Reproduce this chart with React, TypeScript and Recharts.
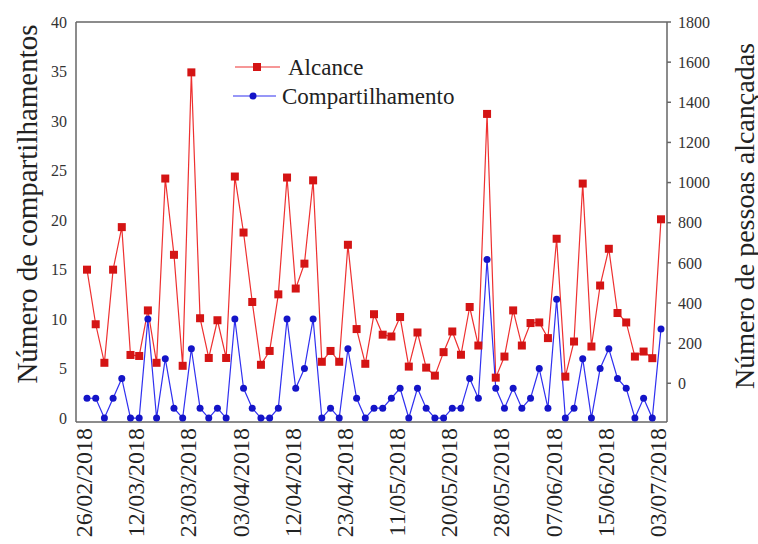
import { LineChart, Line, XAxis, YAxis, Legend, ReferenceLine, Label } from 'recharts'

// one label every 6th post
const dateTicks = [
  '26/02/2018', '12/03/2018', '23/03/2018', '03/04/2018', '12/04/2018', '23/04/2018',
  '11/05/2018', '20/05/2018', '28/05/2018', '07/06/2018', '15/06/2018', '03/07/2018',
]

// pessoas alcancadas (right axis)
const alcance = [
  566, 294, 102, 566, 778, 141, 136, 363, 102, 1020,
  640, 87, 1549, 324, 126, 314, 126, 1030, 751, 405,
  92, 161, 443, 1025, 472, 596, 1011, 107, 161, 107,
  690, 270, 97, 344, 242, 233, 330, 83, 253, 78,
  38, 155, 258, 142, 380, 188, 1342, 28, 133, 363,
  188, 300, 303, 225, 720, 33, 208, 995, 183, 487,
  670, 350, 303, 133, 158, 125, 817,
]

// compartilhamentos (left axis)
const compartilhamento = [
  2, 2, 0, 2, 4, 0, 0, 10, 0, 6,
  1, 0, 7, 1, 0, 1, 0, 10, 3, 1,
  0, 0, 1, 10, 3, 5, 10, 0, 1, 0,
  7, 2, 0, 1, 1, 2, 3, 0, 3, 1,
  0, 0, 1, 1, 4, 2, 16, 3, 1, 3,
  1, 2, 5, 1, 12, 0, 1, 6, 0, 5,
  7, 4, 3, 0, 2, 0, 9,
]

const leftTicks = [0, 5, 10, 15, 20, 25, 30, 35, 40]
const rightTicks = [0, 200, 400, 600, 800, 1000, 1200, 1400, 1600, 1800]

const data = alcance.map((a, i) => ({
  post: i,
  alcance: a,
  compartilhamento: compartilhamento[i],
}))

const SERIF = '"Liberation Serif", "Times New Roman", serif'
const RED = '#ee3030'
const RED_DOT = '#d41414'
const BLUE = '#3030f0'
const BLUE_DOT = '#1414c8'
const FRAME = '#666'

const DateTick = ({ x, y, payload }: any) => (
  <g transform={`translate(${x},${y})`}>
    <text
      x={-6}
      y={0}
      dy={5}
      transform="rotate(-90)"
      textAnchor="end"
      fontFamily={SERIF}
      fontSize={24}
      fill="#222"
    >
      {dateTicks[payload.value / 6]}
    </text>
  </g>
)

const SquareDot = ({ cx, cy, index }: any) => (
  <rect key={`sq-${index}`} x={cx - 4} y={cy - 4} width={8} height={8} fill={RED_DOT} />
)

const LegendBox = () => (
  <svg width={270} height={62}>
    <line x1={5} y1={15} x2={50} y2={15} stroke={RED} strokeWidth={1.2} />
    <rect x={23} y={11} width={8} height={8} fill={RED_DOT} />
    <text x={58} y={23} fontFamily={SERIF} fontSize={23} fill="#222">
      Alcance
    </text>
    <line x1={3} y1={44} x2={46} y2={44} stroke={BLUE} strokeWidth={1.2} />
    <circle cx={23} cy={44} r={3.5} fill={BLUE_DOT} />
    <text x={52} y={52} fontFamily={SERIF} fontSize={23} fill="#222">
      Compartilhamento
    </text>
  </svg>
)

export default function App() {
  return (
    <div style={{ position: 'absolute', left: 0, top: 0 }}>
      <LineChart
        width={758}
        height={544}
        data={data}
        margin={{ top: 22, right: 0, bottom: 0, left: 0 }}
      >
        <XAxis
          dataKey="post"
          interval={5}
          height={122}
          tickSize={0}
          tickMargin={0}
          tick={<DateTick />}
          padding={{ left: 11, right: 6 }}
          stroke={FRAME}
          strokeWidth={1.5}
        />
        <YAxis
          yAxisId="left"
          width={76}
          domain={[-0.4, 40]}
          ticks={leftTicks}
          allowDataOverflow
          tickSize={0}
          tickMargin={9}
          stroke={FRAME}
          strokeWidth={1.5}
          tick={{ fontFamily: SERIF, fontSize: 16, fill: '#333' }}
        >
          <Label
            content={() => (
              <text
                x={27}
                y={204}
                transform="rotate(-90, 27, 204)"
                textAnchor="middle"
                dominantBaseline="central"
                fontFamily={SERIF}
                fontSize={29}
                fill="#222"
              >
                Número de compartilhamentos
              </text>
            )}
          />
        </YAxis>
        <YAxis
          yAxisId="right"
          orientation="right"
          width={91}
          domain={[-193, 1800]}
          ticks={rightTicks}
          allowDataOverflow
          tickSize={4}
          tickMargin={7}
          stroke={FRAME}
          strokeWidth={1.5}
          tick={{ fontFamily: SERIF, fontSize: 16, fill: '#333', textAnchor: 'start' }}
        >
          <Label
            content={() => (
              <text
                x={744}
                y={216}
                transform="rotate(-90, 744, 216)"
                textAnchor="middle"
                dominantBaseline="central"
                fontFamily={SERIF}
                fontSize={28}
                fill="#222"
              >
                Número de pessoas alcançadas
              </text>
            )}
          />
        </YAxis>
        <ReferenceLine yAxisId="left" y={40} stroke={FRAME} strokeWidth={1.5} />
        <Legend
          layout="horizontal"
          verticalAlign="middle"
          content={() => <LegendBox />}
          wrapperStyle={{ left: 230, top: 52, width: 270, height: 62 }}
        />
        <Line
          yAxisId="right"
          dataKey="alcance"
          name="Alcance"
          stroke={RED}
          strokeWidth={1.2}
          dot={<SquareDot />}
          activeDot={false}
          isAnimationActive={false}
        />
        <Line
          yAxisId="left"
          dataKey="compartilhamento"
          name="Compartilhamento"
          stroke={BLUE}
          strokeWidth={1.2}
          dot={{ r: 3.5, fill: BLUE_DOT, stroke: BLUE_DOT, strokeWidth: 0 }}
          activeDot={false}
          isAnimationActive={false}
        />
      </LineChart>
    </div>
  )
}
